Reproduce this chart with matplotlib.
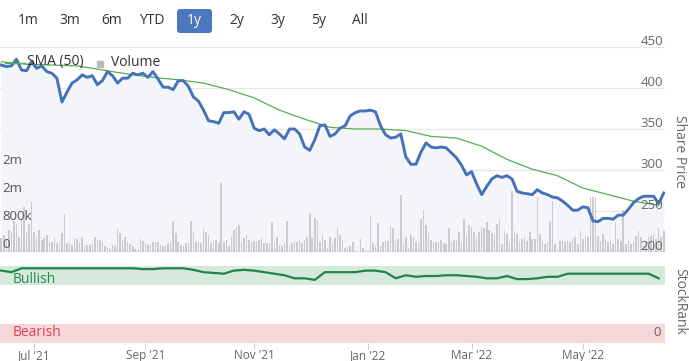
import numpy as np
import pandas as pd
import matplotlib
matplotlib.use("Agg")
import matplotlib.pyplot as plt
from matplotlib.patches import FancyBboxPatch, Rectangle
from matplotlib.lines import Line2D

plt.rcParams["font.family"] = ["Open Sans", "DejaVu Sans"]

# range selector
buttons = ["1m", "3m", "6m", "YTD", "1y", "2y", "3y", "5y", "All"]
selected = "1y"

# daily volume (thousands of shares), one per trading day from 14 Jun 2021
volume_k = [
    390, 490, 350, 620, 580, 900, 810, 440, 950, 1280,
    530, 810, 1420, 580, 440, 620, 350, 390, 490, 250,
    300, 440, 250, 300, 530, 1090, 250, 250, 210, 390,
    370, 300, 440, 160, 210, 210, 220, 440, 350, 350,
    300, 160, 110, 90, 190, 160, 670, 530, 350, 440,
    280, 220, 160, 90, 60, 370, 320, 250, 210, 210,
    280, 300, 280, 210, 160, 190, 250, 250, 900, 530,
    300, 210, 160, 250, 250, 900, 580, 300, 300, 250,
    670, 580, 490, 250, 300, 350, 250, 1980, 300, 350,
    159, 439, 625, 718, 765, 252, 392, 485, 345, 299,
    317, 317, 345, 392, 252, 252, 252, 858, 252, 439,
    205, 159, 252, 877, 159, 252, 299, 299, 345, 252,
    345, 439, 1120, 392, 970, 905, 299, 485, 345, 112,
    439, 252, 411, 672, 485, 345, 112, 131, 177, 299,
    19, 19, 373, 112, 47, 19, 998, 252,
    159, 840, 159, 299, 317, 317, 746, 672, 317, 373,
    1624, 252, 439, 112, 485, 439, 299, 252, 952, 1213,
    765, 532, 345, 252, 280, 299, 345, 252, 224, 672,
    299, 345, 345, 578, 299,
    952, 485, 765, 718, 578, 439, 578, 718, 672, 858, 625, 532, 485, 812,
    933, 233, 606, 513, 280, 1745, 606, 513, 327, 373,
    420, 327, 560, 373, 373, 1586, 513, 327, 233, 280,
    886, 1446, 233, 47, 327, 327, 280, 327, 280, 373,
    420, 233, 606, 373, 467, 420, 1586, 1586, 1558, 467,
    327, 513, 373, 280, 327, 233, 840, 373, 327, 1213,
    233, 327, 233, 280, 467, 606, 420, 187, 327, 420,
    467, 513, 373, 700, 420, 606,
]

# share price, every 2nd trading day
price = [
    428, 426, 427, 435, 422, 421, 432, 424, 427, 420,
    418, 412, 383, 395, 406, 410, 416, 413, 415, 404,
    409, 420, 415, 406, 412, 412, 418, 416, 418, 413,
    420, 411, 401, 401, 398, 409, 409, 402, 389, 384,
    373, 360, 359, 357, 370, 370, 371, 362, 371, 368,
    351, 348, 350, 343, 349, 344, 338, 350, 350, 344,
    328, 324, 337, 354, 355, 341, 344, 351, 354, 366,
    370, 372, 372, 373, 371, 354, 343, 339, 340, 344,
    316, 307, 307, 322, 333, 328, 327, 328, 327, 321,
    315, 306, 294, 298, 283, 270, 280, 289, 293, 291,
    293, 289, 274, 272, 271, 270, 276, 272, 270, 267,
    266, 262, 257, 251, 251, 255, 254, 238, 237, 241,
    241, 240, 245, 245, 252, 260, 265, 268, 268, 268,
    259, 272,
]

# 50 day moving average, every 10th trading day
sma50 = [432, 429, 428, 427, 422, 417, 413, 410, 406, 398,
         388, 373, 362, 352, 350, 350, 348, 341, 339, 329,
         313, 301, 293, 278, 270, 262, 257]

# StockRank, every 4th trading day
stockrank = [94, 92, 97, 97, 97, 97, 97, 97, 97, 97,
             97, 97, 97, 97, 96, 96, 97, 97, 97, 95,
             92, 91, 90, 94, 95, 94, 92, 90, 88, 84,
             84, 82, 92, 92, 92, 92, 94, 94, 92, 84,
             88, 86, 87, 87, 88, 88, 87, 86, 84, 84,
             87, 83, 83, 84, 86, 86, 90, 90, 90, 90,
             90, 90, 90, 90, 90, 84]

price_ticks = [200, 250, 300, 350, 400, 450]
volume_ticks = [0, 800e3, 1.6e6, 2.4e6]
volume_labels = ["0", "800k", "2m", "2m"]

n = len(volume_k)
dates = pd.bdate_range("2021-06-14", periods=n)
idx = np.arange(n)
volume = np.array(volume_k) * 1e3

tick_pos, tick_lab = [], []
for i in range(1, n):
    if dates[i].month != dates[i - 1].month and dates[i].month % 2 == 1:
        tick_pos.append(i)
        tick_lab.append(dates[i].strftime("%b '%y"))

BLUE = "#4572b7"
GREEN = "#52b04f"
GREY = "#666666"

W, H = 689, 361
fig = plt.figure(figsize=(W / 100, H / 100), dpi=100)


def box(x0, y0, x1, y1):
    return [x0 / W, 1 - y1 / H, (x1 - x0) / W, (y1 - y0) / H]


# range selector buttons
btn_x = [28, 70, 112, 152, 194, 237, 278, 319, 360]
fig.patches.append(FancyBboxPatch((1.77, (H - 33) / 100), 0.35, 0.24,
                                  boxstyle="round,pad=0,rounding_size=0.03",
                                  transform=fig.dpi_scale_trans,
                                  facecolor="#4a77bd", edgecolor="none"))
for b, x in zip(buttons, btn_x):
    fig.text(x / W, 1 - 21 / H, b, ha="center", va="center", fontsize=10,
             color="white" if b == selected else "#333333")

# price pane: background, gridlines, fill
ax = fig.add_axes(box(0, 47, 665, 252))
ax.set_xlim(-0.5, n - 0.5)
ax.set_ylim(200, 450)
for t in price_ticks:
    ax.axhline(t, color="#e6e6e6", lw=0.8, zorder=0)
ax.axhline(200, color="#d8d8d8", lw=1)
px = idx[::2][:len(price)]
ax.fill_between(px, price, 200, color="#f3f5fb", lw=0)
ax.axis("off")

# volume bars
axv = ax.twinx()
axv.set_ylim(0, 5.86e6)
axv.bar(idx, volume, width=0.62, color="#c9cbd1", lw=0)
axv.axis("off")
for v, lab in zip(volume_ticks, volume_labels):
    axv.annotate(lab, xy=(0.003, v), xycoords=("axes fraction", "data"),
                 xytext=(0, 3), textcoords="offset points",
                 ha="left", va="baseline", fontsize=9.5, color="#555555")

# price and SMA lines
axp = fig.add_axes(box(0, 47, 665, 252), sharex=ax, facecolor="none")
axp.set_ylim(200, 450)
axp.plot(idx[::10][:len(sma50)], sma50, color=GREEN, lw=0.9)
axp.plot(px, price, color=BLUE, lw=2.1, solid_joinstyle="round")
axp.axis("off")
for t in price_ticks:
    axp.annotate(str(t), xy=(0.997, t), xycoords=("axes fraction", "data"),
                 xytext=(0, 1.5), textcoords="offset points",
                 ha="right", va="baseline", fontsize=9.5, color=GREY)

fig.text(680 / W, 1 - 151 / H, "Share Price", rotation=-90, ha="center",
         va="center", fontsize=10, color=GREY)

# legend
fig.add_artist(Line2D([5 / W, 25 / W], [1 - 63 / H] * 2, color=GREEN, lw=1))
fig.text(27 / W, 1 - 62 / H, "SMA (50)", ha="left", va="center",
         fontsize=10, color="#333333")
fig.patches.append(Rectangle((97 / W, 1 - 67 / H), 6 / W, 6 / H,
                             transform=fig.transFigure, color="#bbbbbb"))
fig.text(111 / W, 1 - 62 / H, "Volume", ha="left", va="center",
         fontsize=10, color="#333333")

# StockRank pane
axr = fig.add_axes(box(0, 266, 665, 343), sharex=ax)
axr.set_ylim(0, 100)
axr.axhspan(75, 100, color="#d5e9dc", lw=0)
axr.axhspan(0, 25, color="#f6d7da", lw=0)
axr.plot(idx[::4][:len(stockrank)], stockrank, color="#1f8544", lw=1.6)
for s in axr.spines.values():
    s.set_visible(False)
axr.set_yticks([])
axr.set_xticks(tick_pos, tick_lab)
axr.tick_params(axis="x", length=4, width=0.8, color="#d0d0d0",
                labelcolor=GREY, labelsize=8.5, pad=0.3)
yax = axr.get_yaxis_transform()
axr.text(13 / 665, 83, "Bullish", ha="left", va="center", fontsize=10,
         color="#2a8a4a", transform=yax)
axr.text(13 / 665, 13, "Bearish", ha="left", va="center", fontsize=10,
         color="#d94452", transform=yax)
axr.text(0.994, 13, "0", ha="right", va="center", fontsize=9.5, color=GREY,
         transform=yax)

fig.text(680 / W, 1 - 301 / H, "StockRank", rotation=-90, ha="center",
         va="center", fontsize=10, color=GREY)

fig.savefig("out.png", dpi=100)
